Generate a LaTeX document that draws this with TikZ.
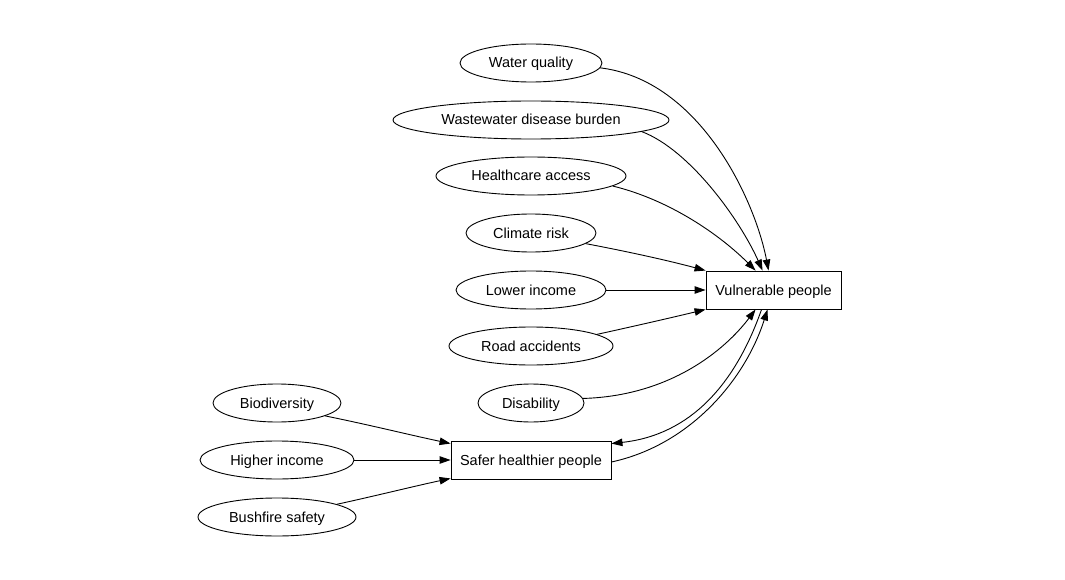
\documentclass[tikz,border=0pt]{standalone}
\usepackage{fontspec}
\setmainfont{Liberation Sans}
\usetikzlibrary{shapes.geometric,arrows.meta,calc}
\begin{document}
\begin{tikzpicture}[x=1pt,y=-1pt,
  every node/.style={font=\fontsize{14.5}{17}\selectfont, inner sep=0pt, line width=0.9pt, text height=13pt, text depth=3pt},
  ell/.style={draw, ellipse, minimum height=38pt},
  boxn/.style={draw, rectangle, minimum height=38pt},
  conn/.style={line width=0.9pt, -{Triangle[length=11pt,width=7.5pt]}}]
\useasboundingbox (0,0) rectangle (1065,580);
% right column
\node[ell, minimum width=142pt] (wq) at (531,63) {Water quality};
\node[ell, minimum width=276pt] (ww) at (531,120) {Wastewater disease burden};
\node[ell, minimum width=190pt] (hc) at (531,176) {Healthcare access};
\node[ell, minimum width=130pt] (cr) at (531,233) {Climate risk};
\node[ell, minimum width=150pt] (li) at (531,290) {Lower income};
\node[ell, minimum width=164pt] (ra) at (531,346) {Road accidents};
\node[ell, minimum width=106pt] (di) at (531,403) {Disability};
% left column
\node[ell, minimum width=128pt] (bd) at (277,403) {Biodiversity};
\node[ell, minimum width=154pt] (hi) at (277,460) {Higher income};
\node[ell, minimum width=158pt] (bf) at (277,517) {Bushfire safety};
% boxes
\node[boxn, minimum width=135pt] (vp) at (773.5,290) {Vulnerable people};
\node[boxn, minimum width=160pt] (sh) at (531,460) {Safer healthier people};
% edges into Vulnerable people
\draw[conn] (wq.-4) .. controls (700,80) and (755,200) .. ($(vp.north west)+(63,0)$);
\draw[conn] (ww.-6.6) .. controls (690,150) and (740,220) .. ($(vp.north west)+(57,0)$);
\draw[conn] (hc.-7) .. controls (670,200) and (720,235) .. ($(vp.north west)+(50,0)$);
\draw[conn] (cr.-11) .. controls (630,252) and (670,261) .. (vp.north west);
\draw[conn] (li.east) -- (vp.west);
\draw[conn] (ra.10.6) .. controls (635,326) and (670,318) .. (vp.south west);
\draw[conn] (di.5.6) .. controls (670,396) and (725,350) .. ($(vp.south west)+(50,0)$);
% between the boxes
\draw[conn] ($(vp.south west)+(56,0)$) .. controls (735,385) and (690,435) .. ($(sh.north east)+(0,3)$);
\draw[conn] ($(sh.east)+(0,2)$) .. controls (690,445) and (745,380) .. ($(vp.south west)+(62,0)$);
% edges into Safer healthier people
\draw[conn] (bd.-15) .. controls (370,425) and (410,435) .. ($(sh.north west)+(0,3)$);
\draw[conn] (hi.east) -- (sh.west);
\draw[conn] (bf.12.6) .. controls (375,496) and (415,486) .. ($(sh.south west)+(0,-1)$);
\end{tikzpicture}
\end{document}
